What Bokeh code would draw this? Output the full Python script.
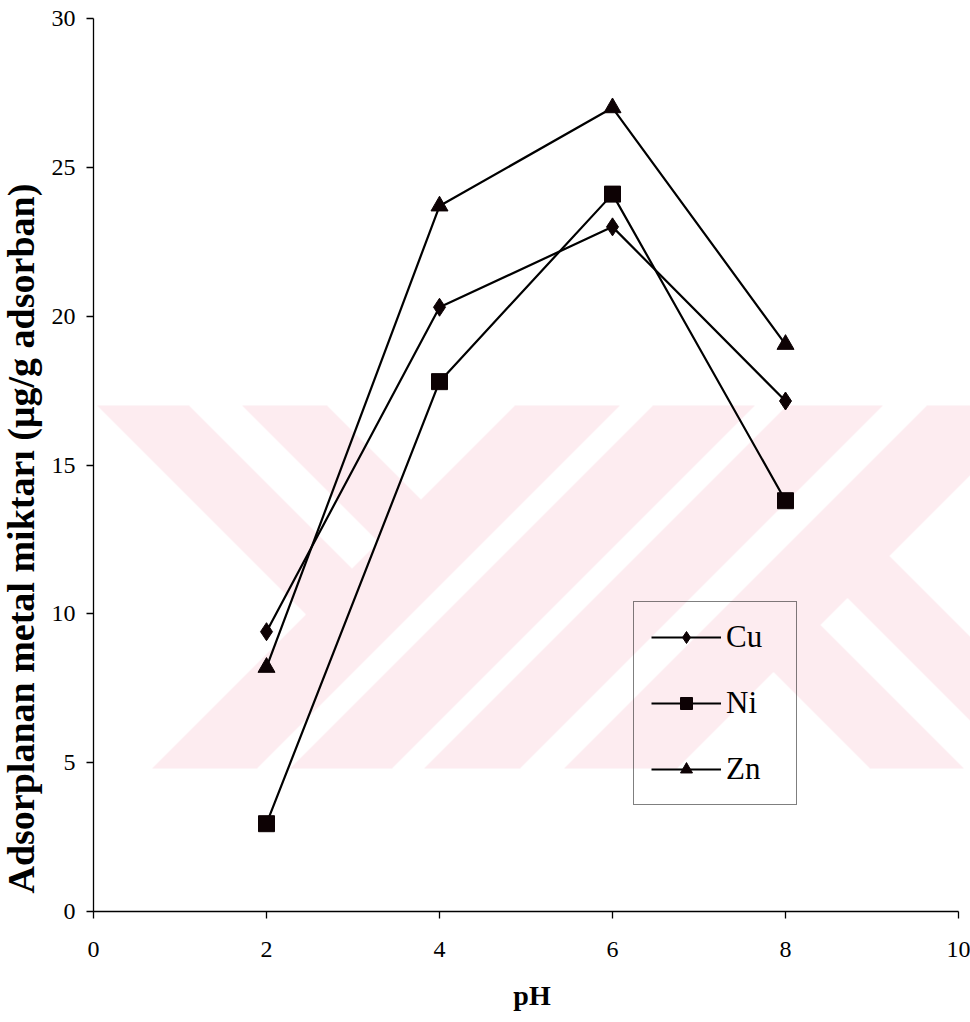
import numpy as np
from bokeh.plotting import figure
from bokeh.models import Legend, LegendItem, FixedTicker, Range1d, Title
from bokeh.embed import file_html
from bokeh.resources import INLINE

# ---------------- data ----------------
ph = [2, 4, 6, 8]
cu = [9.4, 20.3, 23.0, 17.15]
ni = [2.95, 17.8, 24.1, 13.8]
zn = [8.2, 23.7, 27.0, 19.05]
series_names = ["Cu", "Ni", "Zn"]
x_ticks = [0, 2, 4, 6, 8, 10]
y_ticks = [0, 5, 10, 15, 20, 25, 30]
x_title = "pH"
y_title = "Adsorplanan metal miktarı (μg/g adsorban)"

# ---------------- layout ----------------
FONT = "Liberation Serif"
SHIFT = 20                      # canvas starts SHIFT px left of the page edge
W, H = 970 + SHIFT, 1022
ML, MT, MB, MR = 93 + SHIFT, 18, 111, 0
XS = 86.5                       # px per pH unit
YS = (H - MT - MB) / 30.0       # px per y unit
X_END = (W - ML - MR) / XS
PAGE_X0 = ML - SHIFT            # page x of pH = 0
PAGE_Y0 = H - MB                # page y of value = 0


def dx(u):
    return (u - PAGE_X0) / XS


def dy(v):
    return (PAGE_Y0 - v) / YS


p = figure(width=W, height=H, x_range=Range1d(0, X_END), y_range=Range1d(0, 30),
           output_backend="svg", toolbar_location=None,
           min_border_left=ML, min_border_top=MT, min_border_bottom=MB, min_border_right=MR,
           styles={"margin-left": f"-{SHIFT}px"})
p.outline_line_color = None
p.grid.visible = False
p.background_fill_color = "white"
p.border_fill_color = "white"

# ---------------- background watermark (light pink diagonal bands) ----------------
WM_L, WM_R, WM_T, WM_B = 97, 970, 405, 768
us = np.arange(WM_L, WM_R) + 0.5
vs = np.arange(WM_B, WM_T, -1) - 0.5
U, V = np.meshgrid(us, vs)
A = V + U
B = V - U
pink = np.zeros(U.shape, dtype=bool)
left = A < 920
pink |= left & (((B > 216) & (B <= 308)) | ((B > 78) & (B <= 163)))
mid = (A >= 920) & (A < 1445)
pink |= mid & ((A < 1025) | ((A >= 1058) & (A < 1160)) | ((A >= 1192) & (A < 1288)) | (A >= 1332))
right = A >= 1445
pink |= right & (((B >= -333) & (B < -249)) | ((B >= -195) & (B < -101)))
img = np.zeros(U.shape, dtype=np.uint32)
view = img.view(dtype=np.uint8).reshape(U.shape + (4,))
view[pink] = [253, 236, 240, 255]
p.image_rgba(image=[img], x=dx(WM_L), y=dy(WM_B), dw=(WM_R - WM_L) / XS, dh=(WM_B - WM_T) / YS)

# ---------------- series ----------------
items = []
for name, vals, marker, size in [
        (series_names[0], cu, "diamond", 18),
        (series_names[1], ni, "square", 16),
        (series_names[2], zn, "triangle", 17)]:
    ln = p.line(ph, vals, line_color="black", line_width=2.2)
    sc = p.scatter(ph, vals, marker=marker, size=size,
                   fill_color="#0d0204", line_color="#0d0204", line_width=1)
    items.append(LegendItem(label=name, renderers=[ln, sc]))

legend = Legend(items=items, location=(540, 106))
legend.label_text_font = FONT
legend.label_text_font_size = "31px"
legend.label_text_color = "black"
legend.glyph_width = 70
legend.glyph_height = 30
legend.label_standoff = 5
legend.label_width = 53
legend.padding = 17
legend.spacing = 30
legend.border_line_color = "black"
legend.border_line_width = 1
legend.background_fill_alpha = 0
p.add_layout(legend)

# ---------------- axes ----------------
for ax, ticks in ((p.xaxis[0], x_ticks), (p.yaxis[0], y_ticks)):
    ax.ticker = FixedTicker(ticks=ticks)
    ax.minor_tick_line_color = None
    ax.major_tick_in = 0
    ax.major_tick_out = 7
    ax.axis_line_color = "black"
    ax.axis_line_width = 1.3
    ax.major_tick_line_color = "black"
    ax.major_tick_line_width = 1.3
    ax.major_label_text_font = FONT
    ax.major_label_text_font_size = "24px"
    ax.major_label_text_color = "black"
p.xaxis.bounds = (0, 10)
p.yaxis.bounds = (0, 30)
p.xaxis.major_label_standoff = 23
p.yaxis.major_label_standoff = 11

p.xaxis.axis_label = x_title
p.xaxis.axis_label_text_font = FONT
p.xaxis.axis_label_text_font_size = "28px"
p.xaxis.axis_label_text_font_style = "bold"
p.xaxis.axis_label_text_color = "black"
p.xaxis.axis_label_standoff = 20

ytitle = Title(text=y_title, align="left", offset=18, vertical_align="top",
               standoff=10, text_font=FONT, text_font_size="38px",
               text_font_style="bold", text_color="black")
p.add_layout(ytitle, "left")

open("out.html", "w").write(file_html(p, INLINE))
